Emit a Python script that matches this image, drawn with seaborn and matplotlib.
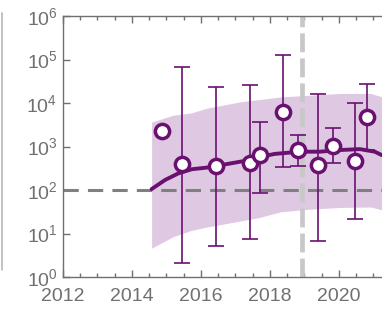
from matplotlib import pyplot as plt
from matplotlib.lines import Line2D
from matplotlib.ticker import MultipleLocator, LogLocator, NullLocator
import seaborn as sns
import pandas as pd
import numpy as np

# observed points (year, value) with asymmetric error bars
years = [2014.86, 2015.46, 2016.43, 2017.42, 2017.71, 2018.39,
         2018.82, 2019.40, 2019.82, 2020.46, 2020.82]
values = [2300, 390, 360, 410, 630, 6300, 830, 376, 1050, 470, 4850]
err_low = [np.nan, 2.1, 5.1, 7.4, 87, 330, 360, 6.8, 410, 22, 830]
err_high = [np.nan, 68000, 23500, 25700, 3700, 126000, 1800, 15800,
            2600, 9800, 28000]

# fitted curve
fit_years = [2014.57, 2014.96, 2015.34, 2015.73, 2016.21, 2016.60,
             2017.42, 2017.71, 2018.14, 2018.87, 2019.45, 2020.03,
             2020.61, 2021.04, 2021.25]
fit_values = [105, 170, 240, 300, 330, 376, 490, 575, 676, 760, 760,
              830, 870, 760, 630]

# confidence band
band_years = [2014.57, 2015.2, 2015.71, 2016.17, 2017.16, 2017.7,
              2018.32, 2019.16, 2020.06, 2020.93, 2021.25]
band_high = [3630, 5250, 5890, 7590, 10700, 12000, 13800, 15100, 16600,
             16600, 13800]
band_low = [4.6, 8.5, 11.7, 14.1, 19.5, 23.4, 31.6, 36.3, 39.8, 40.7,
            34.7]

threshold = 100
cutoff_year = 2018.92

xtick_labels = ['2012', '2014', '2016', '2018', '2020']

purple = '#6a1170'
band_color = '#dec8e2'
grey = '#707070'

sns.set_style("white")
plt.rcParams['font.family'] = ['Liberation Sans', 'DejaVu Sans']

fig = plt.figure(figsize=(3.82, 3.11), dpi=100)
ax = fig.add_axes([63 / 382, 1 - 277 / 311, 1 - 63 / 382, 261 / 311])

df = pd.DataFrame({'year': years, 'value': values,
                   'low': err_low, 'high': err_high})
fit = pd.DataFrame({'year': fit_years, 'value': fit_values})

# band
ax.fill_between(band_years, band_low, band_high, color=band_color,
                lw=0, zorder=1)

# reference lines
ax.axhline(threshold, color='#808080', lw=2.2, dashes=(5, 3), zorder=2)
ax.axvline(cutoff_year, color='#c8c8c8', lw=3.4, dashes=(4, 1.3),
           zorder=2)

# error bars
eb = df.dropna()
ax.errorbar(eb['year'], eb['value'],
            yerr=[eb['value'] - eb['low'], eb['high'] - eb['value']],
            fmt='none', ecolor=purple, elinewidth=1.2, capsize=6,
            capthick=1.2, zorder=3)

# fitted curve
sns.lineplot(data=fit, x='year', y='value', ax=ax, color=purple, lw=2.8,
             zorder=4)

# points
sns.scatterplot(data=df, x='year', y='value', ax=ax, s=105,
                facecolor='white', edgecolor=purple, linewidth=2.5,
                zorder=5)

# axes style
ax.set_yscale('log')
ax.set_ylim(1, 1e6)
ax.set_xlim(2012, 2021.25)
ax.set_xticks([int(t) for t in xtick_labels])
ax.set_xticklabels(xtick_labels)
ax.xaxis.set_minor_locator(MultipleLocator(0.5))
ax.yaxis.set_major_locator(LogLocator(base=10, numticks=10))
ax.yaxis.set_minor_locator(NullLocator())
ax.set(xlabel='', ylabel='')

for side in ['left', 'bottom', 'top']:
    ax.spines[side].set_color(grey)
    ax.spines[side].set_linewidth(1.0)
ax.spines['right'].set_visible(False)

ax.tick_params(axis='x', which='both', direction='in', top=True,
               bottom=True, colors=grey, labelsize=14, pad=8)
ax.tick_params(axis='x', which='major', length=5, width=1)
ax.tick_params(axis='x', which='minor', length=3, width=1)
ax.tick_params(axis='y', which='major', direction='in', left=True,
               length=5, width=1, colors=grey, labelsize=14, pad=4)

# panel border line at the left
fig.add_artist(Line2D([2 / 382, 2 / 382], [1 - 13 / 311, 1 - 270 / 311],
                      color='#b8b8b8', lw=1.2))

plt.savefig('out.png', dpi=100)
